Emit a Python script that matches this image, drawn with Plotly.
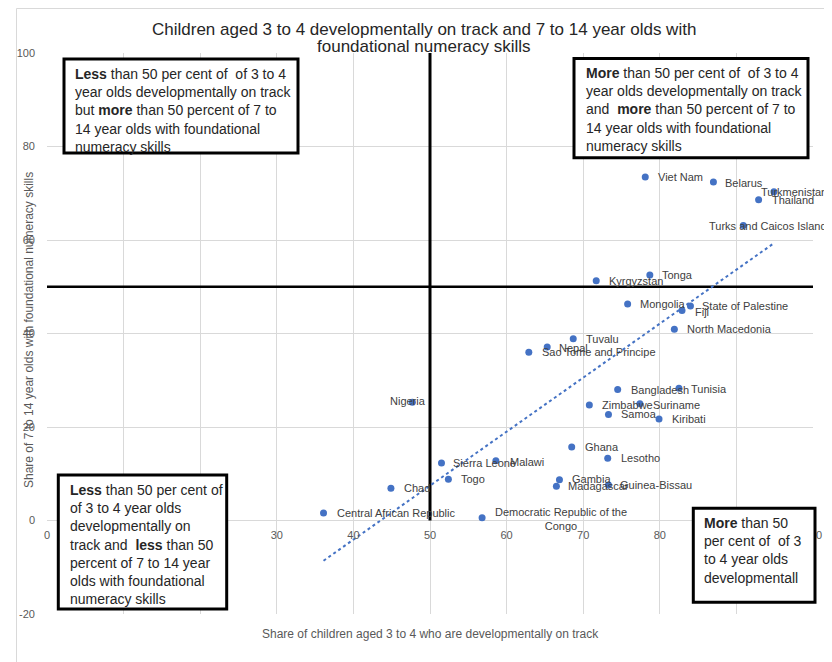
import numpy as np
import plotly.graph_objects as go

# ---------------- data ----------------
countries = [
    "Viet Nam", "Belarus", "Turkmenistan", "Thailand", "Turks and Caicos Islands",
    "Tonga", "Kyrgyzstan", "Mongolia", "State of Palestine", "Fiji",
    "North Macedonia", "Tuvalu", "Nepal", "Sao Tome and Principe", "Bangladesh",
    "Tunisia", "Zimbabwe", "Suriname", "Samoa", "Kiribati",
    "Nigeria", "Ghana", "Lesotho", "Sierra Leone", "Malawi",
    "Togo", "Chad", "Gambia", "Madagascar", "Guinea-Bissau",
    "Central African Republic", "Democratic Republic of the Congo",
]
dev_on_track = [
    78.1, 87.0, 94.9, 92.9, 90.9,
    78.7, 71.7, 75.8, 84.0, 82.9,
    81.9, 68.7, 65.3, 62.9, 74.5,
    82.5, 70.8, 77.4, 73.3, 79.9,
    47.7, 68.5, 73.2, 51.5, 58.6,
    52.4, 44.9, 66.9, 66.5, 73.3,
    36.1, 56.8,
]
numeracy = [
    73.5, 72.4, 70.3, 68.6, 63.1,
    52.5, 51.3, 46.3, 45.9, 44.9,
    40.9, 38.9, 37.1, 36.0, 28.0,
    28.3, 24.7, 25.0, 22.7, 21.7,
    25.3, 15.7, 13.3, 12.3, 12.8,
    8.8, 6.9, 8.7, 7.3, 7.6,
    1.6, 0.6,
]
threshold = 50
x_ticks = [0, 10, 20, 30, 40, 50, 60, 70, 80, 90, 100]
y_ticks = [-20, 0, 20, 40, 60, 80, 100]

title_lines = [
    "Children aged 3 to 4 developmentally on track and 7 to 14 year olds with",
    "foundational numeracy skills",
]
x_title = "Share of children aged 3 to 4 who are developmentally on track"
y_title = "Share of 7 to 14 year olds with foundational numeracy skills"

box_texts = {
    "tl": "<b>Less</b> than 50 per cent of  of 3 to 4<br>year olds developmentally on track<br>"
          "but <b>more</b> than 50 percent of 7 to<br>14 year olds with foundational<br>numeracy skills",
    "tr": "<b>More</b> than 50 per cent of  of 3 to 4<br>year olds developmentally on track<br>"
          "and  <b>more</b> than 50 percent of 7 to<br>14 year olds with foundational<br>numeracy skills",
    "bl": "<b>Less</b> than 50 per cent of<br>of 3 to 4 year olds<br>developmentally on<br>"
          "track and  <b>less</b> than 50<br>percent of 7 to 14 year<br>olds with foundational<br>numeracy skills",
    "br": "<b>More</b> than 50<br>per cent of  of 3<br>to 4 year olds<br>developmentall",
}

# ---------------- layout helpers ----------------
# The page body adds an 8px offset; layout positions below are given in
# window pixels and converted to paper coordinates.
OFF = 8
W, H = 832, 662
PLOT_L, PLOT_R, PLOT_T, PLOT_B = 47, 813, 53, 614   # window pixels
L, T = PLOT_L - OFF, PLOT_T - OFF
R, B = W - (PLOT_R - OFF), H - (PLOT_B - OFF)
PW, PH = PLOT_R - PLOT_L, PLOT_B - PLOT_T


def px(x):
    return (x - PLOT_L) / PW


def py(y):
    return (PLOT_B - y) / PH


FONT = "Liberation Sans, Arial, sans-serif"
BLUE = "#4472C4"
GRID = "#d9d9d9"
TICK = "#595959"

# label placement style: (dx px, dy px, anchor)
label_style = {
    "Turkmenistan": (-14, 0, "left"),
    "Turks and Caicos Islands": (-35, 0, "left"),
    "Belarus": (11, 1, "left"),
    "Tonga": (11, 0, "left"),
    "Mongolia": (11, 0, "left"),
    "State of Palestine": (11, 0, "left"),
    "Fiji": (12, 1, "left"),
    "Nepal": (11, 1, "left"),
    "Tunisia": (11, 1, "left"),
    "Suriname": (12, 1, "left"),
    "Nigeria": (-4, -1, "center"),
    "Sierra Leone": (11, 0, "left"),
    "Malawi": (13, 1, "left"),
    "Gambia": (12, -1, "left"),
    "Madagascar": (11, 0, "left"),
    "Guinea-Bissau": (11, 0, "left"),
    "Democratic Republic of the Congo": (79, 1, "center"),
}
label_text = {"Democratic Republic of the Congo": "Democratic Republic of the<br>Congo"}

fig = go.Figure()

# trendline (linear fit of the data)
slope, intercept = np.polyfit(dev_on_track, numeracy, 1)
tx = np.array([min(dev_on_track), max(dev_on_track)])
fig.add_trace(go.Scatter(
    x=tx, y=slope * tx + intercept, mode="lines",
    line=dict(color=BLUE, width=2, dash="dot"),
    hoverinfo="skip", showlegend=False,
))

fig.add_trace(go.Scatter(
    x=dev_on_track, y=numeracy, mode="markers", text=countries,
    marker=dict(color=BLUE, size=7),
    hovertemplate="%{text}: %{x}, %{y}<extra></extra>", showlegend=False,
))

annotations = []
for c, xv, yv in zip(countries, dev_on_track, numeracy):
    dx, dy, anc = label_style.get(c, (12, 0, "left"))
    annotations.append(dict(
        x=xv, y=yv, xref="x", yref="y", text=label_text.get(c, c),
        showarrow=False, xanchor=anc, yanchor="middle", align="center",
        xshift=dx, yshift=-dy, borderpad=0,
        font=dict(family=FONT, size=11, color="#404040"),
    ))

# title (two lines)
for txt, yc in zip(title_lines, [29.5, 46.5]):
    annotations.append(dict(
        x=px(424), y=py(yc), xref="paper", yref="paper", text=txt,
        showarrow=False, xanchor="center", yanchor="middle", borderpad=0,
        font=dict(family=FONT, size=17, color="#262626"),
    ))

# axis titles
annotations.append(dict(
    x=px(431), y=py(633.5), xref="paper", yref="paper", text=x_title,
    showarrow=False, xanchor="center", yanchor="middle", borderpad=0,
    font=dict(family=FONT, size=12, color=TICK),
))
annotations.append(dict(
    x=px(29), y=py(330), xref="paper", yref="paper", text=y_title,
    showarrow=False, xanchor="center", yanchor="middle", textangle=-90, borderpad=0,
    font=dict(family=FONT, size=12, color=TICK),
))

# quadrant boxes: (rect in window px), (text top-left in window px)
boxes = {
    "tl": ((64, 59, 298, 153), (74, 65.2)),
    "tr": ((574, 58.4, 808, 157.7), (585, 64.3)),
    "bl": ((58.3, 475, 226.7, 609), (69.3, 480.9)),
    "br": ((693.3, 508.3, 815, 602.3), (703.3, 514.2)),
}
shapes = []
# chart area border
shapes.append(dict(type="rect", xref="paper", yref="paper",
                   x0=px(16.5), x1=px(826.5), y0=py(690), y1=py(8.5),
                   line=dict(color=GRID, width=1), fillcolor="rgba(0,0,0,0)", layer="below"))
# thick quadrant lines
shapes.append(dict(type="line", xref="x", yref="y", x0=threshold, x1=threshold, y0=0, y1=100,
                   line=dict(color="black", width=3), layer="between"))
shapes.append(dict(type="line", xref="x", yref="y", x0=0, x1=100, y0=threshold, y1=threshold,
                   line=dict(color="black", width=2.5), layer="between"))

for key, ((x0, y0, x1, y1), (tx0, ty0)) in boxes.items():
    shapes.append(dict(type="rect", xref="paper", yref="paper",
                       x0=px(x0), x1=px(x1), y0=py(y1), y1=py(y0),
                       line=dict(color="black", width=3), fillcolor="white", layer="above"))
    annotations.append(dict(
        x=px(tx0), y=py(ty0), xref="paper", yref="paper", text=box_texts[key],
        showarrow=False, xanchor="left", yanchor="top", align="left", borderpad=0,
        font=dict(family=FONT, size=14, color="#262626"),
    ))

fig.update_layout(
    width=W, height=H,
    margin=dict(l=L, r=R, t=T, b=B, pad=0, autoexpand=False),
    paper_bgcolor="white", plot_bgcolor="white",
    font=dict(family=FONT, size=11, color=TICK),
    xaxis=dict(
        range=[0, 100], tickvals=x_ticks, ticktext=[str(v) for v in x_ticks],
        showgrid=True, gridcolor=GRID, gridwidth=1, zeroline=False,
        showline=False, ticks="", anchor="free", position=20 / 120,
        automargin=False,
        ticklabelstandoff=6, tickfont=dict(family=FONT, size=11, color=TICK),
    ),
    yaxis=dict(
        range=[-20, 100], tickvals=y_ticks, ticktext=[str(v) for v in y_ticks],
        showgrid=True, gridcolor=GRID, gridwidth=1, zeroline=True,
        zerolinecolor=GRID, zerolinewidth=1, showline=False, ticks="",
        automargin=False,
        ticklabelstandoff=11, tickfont=dict(family=FONT, size=11, color=TICK),
    ),
    shapes=shapes, annotations=annotations, showlegend=False,
)

fig.write_html("out.html")
